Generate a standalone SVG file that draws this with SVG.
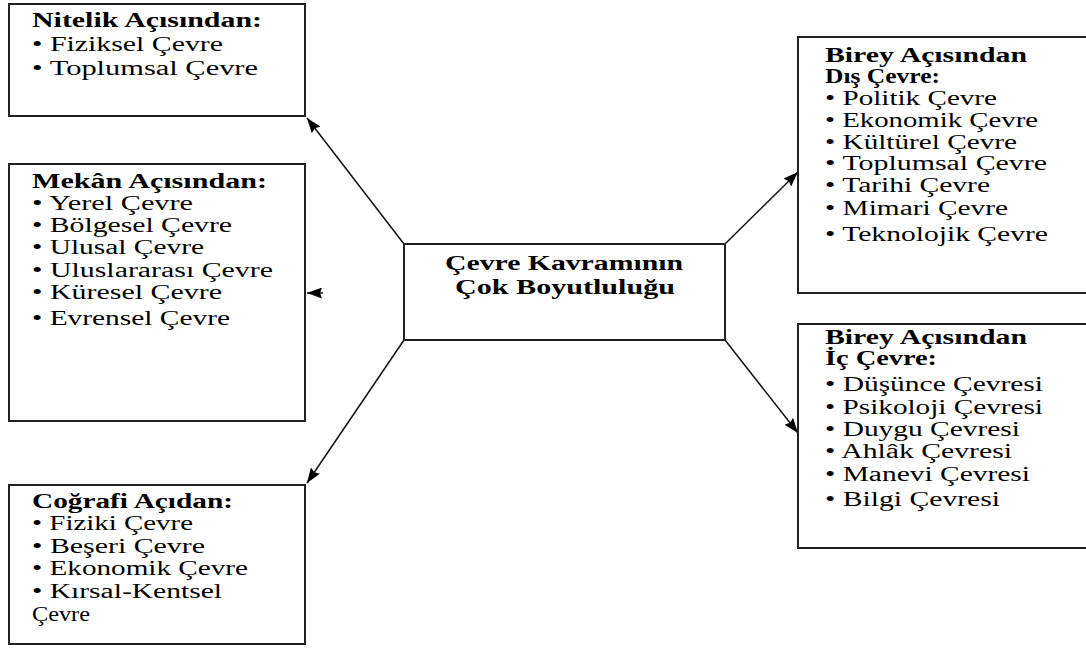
<svg xmlns="http://www.w3.org/2000/svg" width="1086" height="648" viewBox="0 0 1086 648">
<style>
  .box { fill: #fff; stroke: #222; stroke-width: 2; }
  .h { font-family: "Liberation Serif", "Times New Roman", serif; font-size: 20px; font-weight: bold; fill: #000; }
  .t { font-family: "Liberation Serif", "Times New Roman", serif; font-size: 20px; fill: #000; }
  .conn { stroke: #111; stroke-width: 1.5; fill: none; marker-end: url(#arr); }
</style>
<defs>
  <marker id="arr" markerUnits="userSpaceOnUse" markerWidth="15" markerHeight="11" refX="15" refY="5.5" orient="auto">
    <path d="M0,0 L15,5.5 L0,11 L2,5.5 z" fill="#000"/>
  </marker>
</defs>
<rect width="1086" height="648" fill="#fff"/>

<g id="connectors">
  <line class="conn" x1="404" y1="244" x2="307" y2="118"/>
  <line class="conn" x1="404" y1="340" x2="307" y2="483"/>
  <line class="conn" x1="725" y1="244" x2="798" y2="172"/>
  <line class="conn" x1="725" y1="340" x2="798" y2="433"/>
  <line class="conn" x1="323" y1="293" x2="307" y2="293"/>
</g>

<g id="nitelik">
  <rect class="box" x="9" y="4" width="296" height="112"/>
  <text class="h" x="32" y="27" textLength="230" lengthAdjust="spacingAndGlyphs">Nitelik Açısından:</text>
  <text class="t" x="32" y="51" textLength="191" lengthAdjust="spacingAndGlyphs">• Fiziksel Çevre</text>
  <text class="t" x="32" y="75" textLength="226" lengthAdjust="spacingAndGlyphs">• Toplumsal Çevre</text>
</g>

<g id="mekan">
  <rect class="box" x="9" y="164" width="296" height="257"/>
  <text class="h" x="32" y="188" textLength="235" lengthAdjust="spacingAndGlyphs">Mekân Açısından:</text>
  <text class="t" x="32" y="210" textLength="161" lengthAdjust="spacingAndGlyphs">• Yerel Çevre</text>
  <text class="t" x="32" y="232" textLength="200" lengthAdjust="spacingAndGlyphs">• Bölgesel Çevre</text>
  <text class="t" x="32" y="254" textLength="172" lengthAdjust="spacingAndGlyphs">• Ulusal Çevre</text>
  <text class="t" x="32" y="277" textLength="241" lengthAdjust="spacingAndGlyphs">• Uluslararası Çevre</text>
  <text class="t" x="32" y="299" textLength="190" lengthAdjust="spacingAndGlyphs">• Küresel Çevre</text>
  <text class="t" x="32" y="325" textLength="198" lengthAdjust="spacingAndGlyphs">• Evrensel Çevre</text>
</g>

<g id="cografi">
  <rect class="box" x="9" y="485" width="296" height="159"/>
  <text class="h" x="32" y="508" textLength="201" lengthAdjust="spacingAndGlyphs">Coğrafi Açıdan:</text>
  <text class="t" x="32" y="530" textLength="161" lengthAdjust="spacingAndGlyphs">• Fiziki Çevre</text>
  <text class="t" x="32" y="553" textLength="173" lengthAdjust="spacingAndGlyphs">• Beşeri Çevre</text>
  <text class="t" x="32" y="575" textLength="216" lengthAdjust="spacingAndGlyphs">• Ekonomik Çevre</text>
  <text class="t" x="32" y="598" textLength="190" lengthAdjust="spacingAndGlyphs">• Kırsal-Kentsel</text>
  <text class="t" x="32" y="621" textLength="58" lengthAdjust="spacingAndGlyphs">Çevre</text>
</g>

<g id="merkez">
  <rect class="box" x="404" y="244" width="321" height="96"/>
  <text class="h" x="445" y="270" textLength="238" lengthAdjust="spacingAndGlyphs">Çevre Kavramının</text>
  <text class="h" x="455" y="294" textLength="220" lengthAdjust="spacingAndGlyphs">Çok Boyutluluğu</text>
</g>

<g id="dis-cevre">
  <rect class="box" x="798" y="37" width="300" height="256"/>
  <text class="h" x="825" y="62" textLength="202" lengthAdjust="spacingAndGlyphs">Birey Açısından</text>
  <text class="h" x="825" y="83" textLength="115" lengthAdjust="spacingAndGlyphs">Dış Çevre:</text>
  <text class="t" x="825" y="105" textLength="172" lengthAdjust="spacingAndGlyphs">• Politik Çevre</text>
  <text class="t" x="825" y="127" textLength="213" lengthAdjust="spacingAndGlyphs">• Ekonomik Çevre</text>
  <text class="t" x="825" y="149" textLength="192" lengthAdjust="spacingAndGlyphs">• Kültürel Çevre</text>
  <text class="t" x="825" y="170" textLength="222" lengthAdjust="spacingAndGlyphs">• Toplumsal Çevre</text>
  <text class="t" x="825" y="192" textLength="165" lengthAdjust="spacingAndGlyphs">• Tarihi Çevre</text>
  <text class="t" x="825" y="215" textLength="183" lengthAdjust="spacingAndGlyphs">• Mimari Çevre</text>
  <text class="t" x="825" y="241" textLength="223" lengthAdjust="spacingAndGlyphs">• Teknolojik Çevre</text>
</g>

<g id="ic-cevre">
  <rect class="box" x="798" y="324" width="300" height="224"/>
  <text class="h" x="825" y="344" textLength="202" lengthAdjust="spacingAndGlyphs">Birey Açısından</text>
  <text class="h" x="825" y="365" textLength="112" lengthAdjust="spacingAndGlyphs">İç Çevre:</text>
  <text class="t" x="825" y="391" textLength="218" lengthAdjust="spacingAndGlyphs">• Düşünce Çevresi</text>
  <text class="t" x="825" y="414" textLength="218" lengthAdjust="spacingAndGlyphs">• Psikoloji Çevresi</text>
  <text class="t" x="825" y="436" textLength="195" lengthAdjust="spacingAndGlyphs">• Duygu Çevresi</text>
  <text class="t" x="825" y="458" textLength="187" lengthAdjust="spacingAndGlyphs">• Ahlâk Çevresi</text>
  <text class="t" x="825" y="481" textLength="205" lengthAdjust="spacingAndGlyphs">• Manevi Çevresi</text>
  <text class="t" x="825" y="506" textLength="175" lengthAdjust="spacingAndGlyphs">• Bilgi Çevresi</text>
</g>
</svg>
